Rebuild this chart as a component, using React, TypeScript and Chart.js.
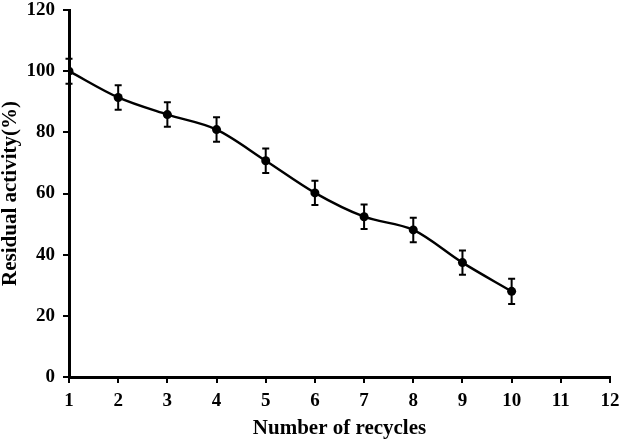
import React, { useEffect, useRef } from "react";
import { Chart, registerables } from "chart.js";

Chart.register(...registerables);

const cycles = [1, 2, 3, 4, 5, 6, 7, 8, 9, 10];
const activity = [100, 91.4, 85.8, 80.9, 70.7, 60.2, 52.4, 48.1, 37.4, 28.0];
const errors = [4.1, 4.0, 4.0, 4.0, 4.0, 4.0, 4.0, 4.0, 4.0, 4.1];

const errorBarPlugin = {
  id: "errorBars",
  afterDatasetsDraw(chart: any) {
    const { ctx, scales } = chart;
    const xs = scales.x;
    const ys = scales.y;
    ctx.save();
    ctx.strokeStyle = "#000";
    ctx.lineWidth = 2;
    cycles.forEach((c, i) => {
      const px = xs.getPixelForValue(c);
      const top = ys.getPixelForValue(activity[i] + errors[i]);
      const bot = ys.getPixelForValue(activity[i] - errors[i]);
      ctx.beginPath();
      ctx.moveTo(px, top);
      ctx.lineTo(px, bot);
      ctx.moveTo(px - 3.5, top);
      ctx.lineTo(px + 3.5, top);
      ctx.moveTo(px - 3.5, bot);
      ctx.lineTo(px + 3.5, bot);
      ctx.stroke();
    });
    ctx.restore();
  },
};

export default function App() {
  const ref = useRef<HTMLCanvasElement | null>(null);
  useEffect(() => {
    if (!ref.current) return;
    const font = { family: "'Liberation Serif', 'Times New Roman', serif", weight: "bold" as const };
    const chart = new Chart(ref.current, {
      type: "line",
      data: {
        datasets: [
          {
            data: cycles.map((c, i) => ({ x: c, y: activity[i] })),
            borderColor: "#000",
            backgroundColor: "#000",
            borderWidth: 2.4,
            pointRadius: 4.5,
            pointBackgroundColor: "#000",
            pointBorderWidth: 0,
            cubicInterpolationMode: "monotone",
            fill: false,
          },
        ],
      },
      options: {
        animation: false,
        responsive: false,
        maintainAspectRatio: false,
        layout: { padding: { top: 10, right: 10, bottom: 0, left: 0 } },
        plugins: { legend: { display: false }, tooltip: { enabled: false } },
        scales: {
          x: {
            type: "linear",
            min: 1,
            max: 12,
            afterFit: (s: any) => {
              s.height = 63;
              s.paddingLeft = 0;
              s.paddingRight = 0;
            },
            ticks: { stepSize: 1, color: "#000", font: { ...font, size: 19 }, padding: 7 },
            grid: { drawOnChartArea: false, drawTicks: true, tickLength: 6, color: "#000", lineWidth: 2 },
            border: { color: "#000", width: 3 },
            title: { display: true, text: "Number of recycles", color: "#000", font: { ...font, size: 21, lineHeight: 1 }, padding: { top: 0, bottom: 1 } },
          },
          y: {
            min: 0,
            max: 120,
            afterFit: (s: any) => {
              s.width = 69;
              s.paddingTop = 0;
              s.paddingBottom = 0;
            },
            ticks: { stepSize: 20, color: "#000", font: { ...font, size: 19 }, padding: 8 },
            grid: { drawOnChartArea: false, drawTicks: true, tickLength: 6, color: "#000", lineWidth: 2 },
            border: { color: "#000", width: 3 },
            title: { display: true, text: "Residual activity(%)", color: "#000", font: { ...font, size: 21, lineHeight: 1 }, padding: { top: 0, bottom: 0 } },
          },
        },
      },
      plugins: [errorBarPlugin],
    });
    return () => chart.destroy();
  }, []);
  return (
    <div style={{ position: "fixed", left: 0, top: 0, width: 620, height: 440, background: "#fff" }}>
      <canvas ref={ref} width={620} height={440} style={{ width: 620, height: 440 }} />
    </div>
  );
}
